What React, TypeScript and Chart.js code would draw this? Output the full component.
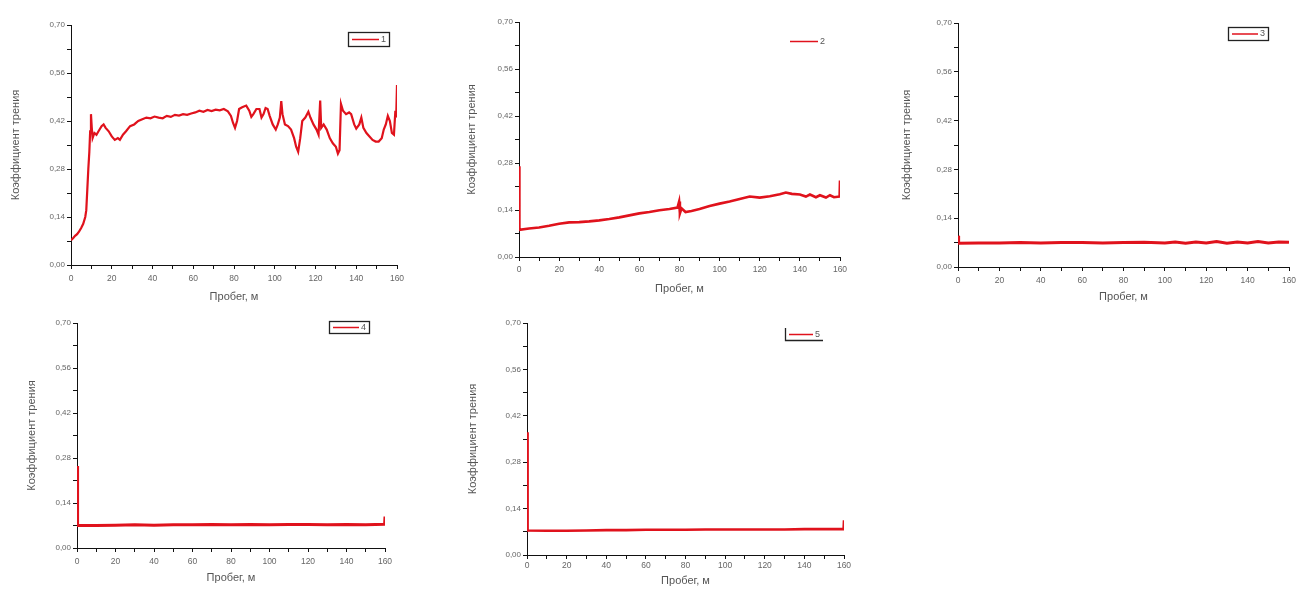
import React, { useEffect, useRef } from "react";
import { Chart, registerables } from "chart.js";

Chart.register(...registerables);

// ---------- data ----------
const yTickLabels = ["0,00", "0,14", "0,28", "0,42", "0,56", "0,70"];
const xTickLabels = ["0", "20", "40", "60", "80", "100", "120", "140", "160"];
const yAxisTitle = "Коэффициент трения";
const xAxisTitle = "Пробег, м";
const seriesNames = ["1", "2", "3", "4", "5"];

const dist1 = [0, 1, 2, 3, 4, 5, 6, 7, 7.5, 8, 8.5, 9, 9.4, 9.8, 10.2, 10.6, 11.5, 12.5, 13.5, 15, 16, 17, 18.5, 20, 21.5, 23, 24, 25.5, 27, 29, 31, 33, 35, 37, 39, 41, 43, 45, 47, 49, 51, 53, 55, 57, 59, 61, 63, 65, 67, 69, 71, 73, 75, 77, 78.5, 79.5, 80.5, 81.5, 82.5, 84, 86, 87.5, 88.5, 89.5, 91, 92.5, 93.5, 94.5, 95.5, 96.5, 97.5, 99, 100.5, 101.5, 102.5, 103.2, 103.8, 105, 106.5, 108, 109.5, 110.5, 111.5, 112.5, 113.5, 115, 116.5, 117.5, 119, 120.5, 121.5, 122.3, 122.8, 124, 125.5, 127, 128.5, 130, 131, 131.8, 132.5, 133.5, 135, 136.5, 137.5, 139, 140, 141.5, 142.5, 143.5, 145, 146.5, 148, 149.5, 151, 152.5, 153.5, 154.5, 155.5, 156.5, 157.5, 158.5, 159.2, 159.6, 160];
const cof1 = [0.072, 0.078, 0.085, 0.09, 0.098, 0.108, 0.12, 0.14, 0.16, 0.22, 0.28, 0.33, 0.39, 0.44, 0.4, 0.37, 0.385, 0.38, 0.39, 0.405, 0.41, 0.4, 0.39, 0.375, 0.365, 0.37, 0.365, 0.38, 0.39, 0.405, 0.41, 0.42, 0.425, 0.43, 0.428, 0.433, 0.43, 0.428, 0.435, 0.432, 0.438, 0.436, 0.44, 0.438, 0.442, 0.445, 0.45, 0.447, 0.452, 0.449, 0.453, 0.451, 0.455, 0.448, 0.435, 0.415, 0.4, 0.42, 0.455, 0.46, 0.465, 0.45, 0.432, 0.44, 0.455, 0.455, 0.43, 0.44, 0.458, 0.455, 0.435, 0.41, 0.395, 0.41, 0.43, 0.478, 0.44, 0.41, 0.405, 0.395, 0.37, 0.345, 0.33, 0.37, 0.42, 0.43, 0.447, 0.43, 0.41, 0.395, 0.38, 0.48, 0.4, 0.41, 0.395, 0.37, 0.355, 0.345, 0.325, 0.335, 0.47, 0.45, 0.44, 0.445, 0.44, 0.41, 0.398, 0.41, 0.43, 0.4, 0.385, 0.375, 0.365, 0.36, 0.36, 0.37, 0.395, 0.41, 0.435, 0.42, 0.385, 0.38, 0.45, 0.43, 0.525];

const dist2 = [0, 0.2, 5, 10, 15, 20, 25, 30, 35, 40, 45, 50, 55, 60, 65, 70, 75, 79, 79.8, 80.2, 81, 83, 86, 90, 95, 100, 105, 110, 115, 120, 125, 130, 133, 136, 140, 143, 145, 148, 150, 153, 155, 157, 159.8, 160];
const cof2 = [0.27, 0.081, 0.085, 0.088, 0.093, 0.099, 0.103, 0.104, 0.106, 0.109, 0.113, 0.118, 0.124, 0.13, 0.134, 0.139, 0.143, 0.147, 0.165, 0.13, 0.145, 0.134, 0.137, 0.143, 0.152, 0.159, 0.165, 0.173, 0.18, 0.177, 0.181, 0.187, 0.192, 0.188, 0.186, 0.18, 0.186, 0.178, 0.184, 0.177, 0.184, 0.178, 0.18, 0.228];

const dist3 = [0, 0.3, 10, 20, 30, 40, 50, 60, 70, 80, 90, 100, 105, 110, 115, 120, 125, 130, 135, 140, 145, 150, 155, 160];
const cof3 = [0.09, 0.068, 0.069, 0.069, 0.07, 0.069, 0.07, 0.07, 0.069, 0.07, 0.071, 0.069, 0.072, 0.068, 0.072, 0.069, 0.073, 0.068, 0.072, 0.069, 0.073, 0.069, 0.072, 0.071];

const dist4 = [0, 0.3, 10, 20, 30, 40, 50, 60, 70, 80, 90, 100, 110, 120, 130, 140, 150, 159.8, 160];
const cof4 = [0.255, 0.07, 0.07, 0.071, 0.072, 0.071, 0.072, 0.072, 0.073, 0.072, 0.073, 0.072, 0.073, 0.073, 0.072, 0.073, 0.072, 0.074, 0.098];

const dist5 = [0, 0.3, 10, 20, 30, 40, 50, 60, 70, 80, 90, 100, 110, 120, 130, 140, 150, 159.8, 160];
const cof5 = [0.37, 0.074, 0.073, 0.073, 0.074, 0.075, 0.075, 0.076, 0.076, 0.076, 0.077, 0.077, 0.077, 0.077, 0.077, 0.078, 0.078, 0.078, 0.105];

// ---------- layout (page pixel positions of each panel) ----------
const panels = [
  { dist: dist1, cof: cof1, L: 71, T: 25, R: 397, B: 265, yTitleX: 16, xTitleY: 297, xPad: 5, lw: 2.2,
    legend: { x: 348, y: 32, w: 41, h: 14, frame: "box" } },
  { dist: dist2, cof: cof2, L: 519, T: 22, R: 840, B: 257, yTitleX: 472, xTitleY: 289, xPad: 4, lw: 2.6,
    legend: { x: 786, y: 34, w: 42, h: 14, frame: "none" } },
  { dist: dist3, cof: cof3, L: 958, T: 23, R: 1289, B: 267, yTitleX: 907, xTitleY: 297, xPad: 5, lw: 3,
    legend: { x: 1228, y: 27, w: 40, h: 13, frame: "box" } },
  { dist: dist4, cof: cof4, L: 77, T: 323, R: 385, B: 548, yTitleX: 32, xTitleY: 578, xPad: 5, lw: 3,
    legend: { x: 329, y: 321, w: 40, h: 12, frame: "box" } },
  { dist: dist5, cof: cof5, L: 527, T: 323, R: 844, B: 555, yTitleX: 473, xTitleY: 581, xPad: 2, lw: 2.6,
    legend: { x: 785, y: 328, w: 38, h: 12, frame: "bracket" } },
];

const PAGE_W = 1296;
const FONT = "'Liberation Sans', Arial, sans-serif";
const TITLE_SIZE = 11;
const TITLE_LH = TITLE_SIZE * 1.2;
const PAD_TOP = 8;
const LINE_COLOR = "#e0121c";

const insetLegend = {
  id: "insetLegend",
  afterDraw(chart: any, _args: any, opts: any) {
    const cfg = opts && opts.box;
    if (!cfg) return;
    const ctx = chart.ctx;
    const ds = chart.data.datasets[0];
    const { x, y, w, h, frame } = cfg;
    ctx.save();
    ctx.strokeStyle = "#222";
    ctx.lineWidth = 1.3;
    if (frame === "box") {
      ctx.strokeRect(x + 0.5, y + 0.5, w, h);
    } else if (frame === "bracket") {
      ctx.beginPath();
      ctx.moveTo(x + 0.5, y);
      ctx.lineTo(x + 0.5, y + h + 0.5);
      ctx.lineTo(x + w, y + h + 0.5);
      ctx.stroke();
    }
    const ly = y + h / 2 + 0.5;
    ctx.strokeStyle = ds.borderColor;
    ctx.lineWidth = 1.5;
    ctx.beginPath();
    ctx.moveTo(x + 4, ly);
    ctx.lineTo(x + w - 10, ly);
    ctx.stroke();
    ctx.fillStyle = "#555";
    ctx.font = `9px ${FONT}`;
    ctx.textBaseline = "middle";
    ctx.textAlign = "left";
    ctx.fillText(ds.label, x + w - 8, ly);
    ctx.restore();
  },
};

function Panel({ p, name }: { p: any; name: string }) {
  const ref = useRef<HTMLCanvasElement | null>(null);
  const left = Math.round(p.L - (p.L - p.yTitleX + TITLE_LH / 2));
  const yW = p.L - left;
  const top = p.T - PAD_TOP;
  const bottom = Math.round(p.xTitleY + TITLE_LH / 2);
  const height = bottom - top;
  const xH = bottom - p.B;
  const padRight = Math.min(12, PAGE_W - p.R);
  const width = p.R + padRight - left;

  useEffect(() => {
    if (!ref.current) return;
    const points = p.dist.map((d: number, i: number) => ({ x: d, y: p.cof[i] }));
    const chart = new Chart(ref.current, {
      type: "line",
      data: {
        datasets: [
          {
            label: name,
            data: points,
            borderColor: LINE_COLOR,
            borderWidth: p.lw,
            pointRadius: 0,
            tension: 0,
            fill: false,
          },
        ],
      },
      options: {
        responsive: false,
        animation: false,
        events: [],
        layout: { autoPadding: false, padding: { left: 0, top: PAD_TOP, right: padRight, bottom: 0 } },
        plugins: {
          legend: { display: false },
          tooltip: { enabled: false },
          insetLegend: {
            box: { ...p.legend, x: p.legend.x - left, y: p.legend.y - top },
          },
        } as any,
        scales: {
          x: {
            type: "linear",
            min: 0,
            max: 160,
            afterFit: (s: any) => {
              s.height = xH;
              s.paddingLeft = 0;
              s.paddingRight = 0;
            },
            border: { color: "#111", width: 1 },
            grid: { drawOnChartArea: false, drawTicks: true, tickLength: 4, tickColor: "#111" },
            ticks: {
              stepSize: 10,
              autoSkip: false,
              maxRotation: 0,
              padding: p.xPad,
              color: "#666",
              font: { family: FONT, size: 8.5 },
              callback: (v: any) => {
                const i = Math.round(Number(v) / 10);
                return i % 2 === 0 ? xTickLabels[i / 2] : "";
              },
            },
            title: {
              display: true,
              text: xAxisTitle,
              color: "#555",
              padding: 0,
              font: { family: FONT, size: TITLE_SIZE },
            },
          },
          y: {
            type: "linear",
            min: 0,
            max: 0.7,
            afterFit: (s: any) => {
              s.width = yW;
              s.paddingTop = 0;
              s.paddingBottom = 0;
            },
            border: { color: "#111", width: 1 },
            grid: { drawOnChartArea: false, drawTicks: true, tickLength: 4, tickColor: "#111" },
            ticks: {
              stepSize: 0.07,
              autoSkip: false,
              padding: 2,
              color: "#666",
              font: { family: FONT, size: 8 },
              callback: (v: any) => {
                const i = Math.round(Number(v) / 0.07);
                return i % 2 === 0 ? yTickLabels[i / 2] : "";
              },
            },
            title: {
              display: true,
              text: yAxisTitle,
              color: "#555",
              padding: 0,
              font: { family: FONT, size: TITLE_SIZE },
            },
          },
        },
      },
      plugins: [insetLegend],
    } as any);
    return () => chart.destroy();
  }, []);

  return (
    <canvas
      ref={ref}
      width={width}
      height={height}
      style={{ position: "absolute", left, top, width, height }}
    />
  );
}

export default function App() {
  return (
    <div
      style={{
        position: "fixed",
        left: 0,
        top: 0,
        width: PAGE_W,
        height: 591,
        background: "#fff",
        overflow: "hidden",
      }}
    >
      {panels.map((p, i) => (
        <Panel key={i} p={p} name={seriesNames[i]} />
      ))}
    </div>
  );
}
